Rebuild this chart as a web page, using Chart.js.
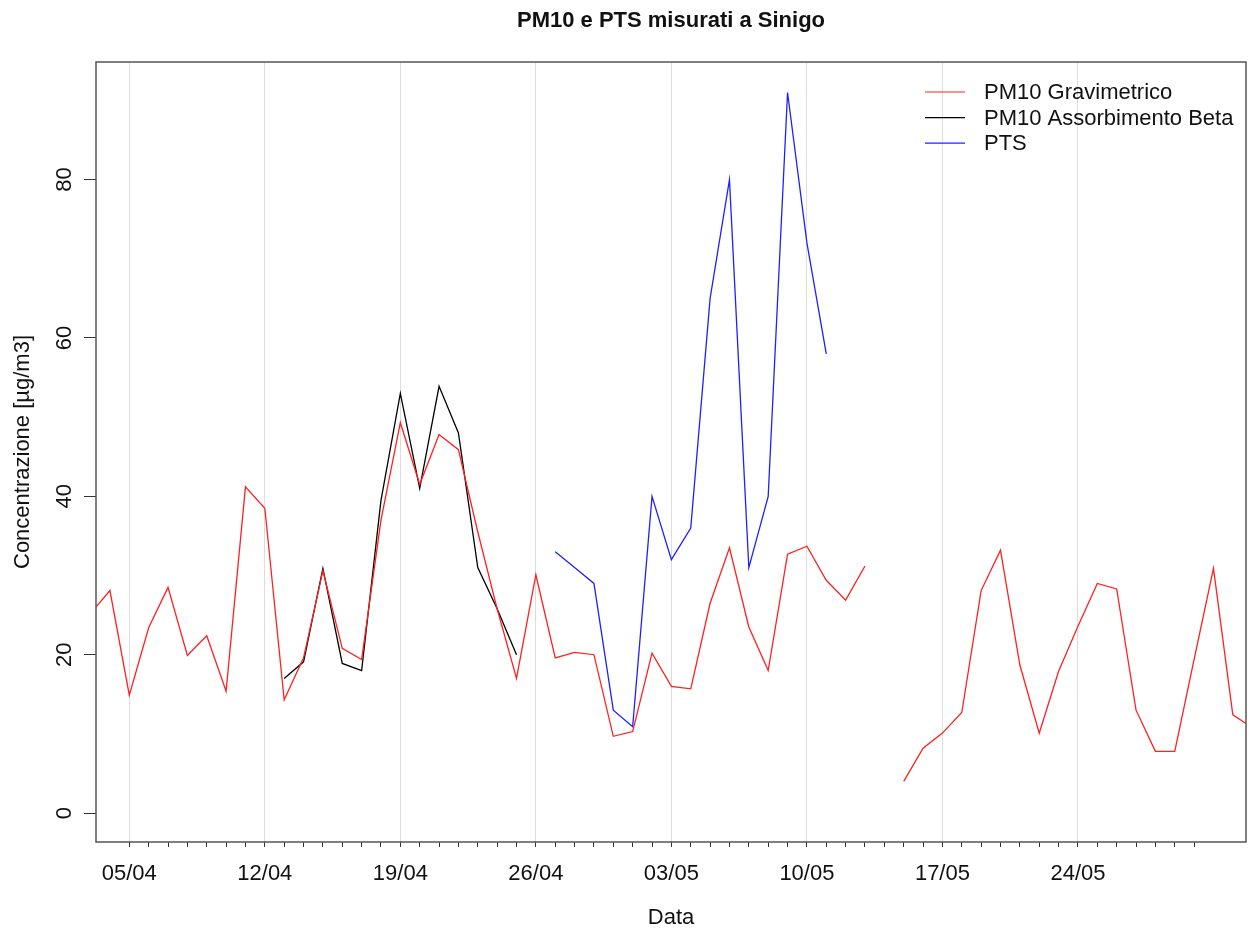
<!DOCTYPE html>
<html>
<head>
<meta charset="utf-8">
<title>PM10 e PTS misurati a Sinigo</title>
<script src="https://cdn.jsdelivr.net/npm/chart.js@4.4.1/dist/chart.umd.min.js"></script>
<style>
  html, body { margin: 0; padding: 0; background: #fff; }
</style>
</head>
<body>
<canvas id="sinigoChart" width="1249" height="931"></canvas>
<script>
// giorni di misura
const giorni = [
  '03/04','04/04','05/04','06/04','07/04','08/04','09/04','10/04','11/04','12/04',
  '13/04','14/04','15/04','16/04','17/04','18/04','19/04','20/04','21/04','22/04',
  '23/04','24/04','25/04','26/04','27/04','28/04','29/04','30/04',
  '01/05','02/05','03/05','04/05','05/05','06/05','07/05','08/05','09/05','10/05',
  '11/05','12/05','13/05','14/05','15/05','16/05','17/05','18/05','19/05','20/05',
  '21/05','22/05','23/05','24/05','25/05','26/05','27/05','28/05','29/05','30/05',
  '31/05','01/06','02/06'
];

// µg/m3
const pm10Gravimetrico = [
  25.2, 28.1, 14.9, 23.4, 28.5, 19.9, 22.4, 15.4, 41.2, 38.5,
  14.3, 19.6, 30.6, 20.8, 19.4, 37.0, 49.3, 41.5, 47.8, 45.9,
  35.5, 25.8, 17.0, 30.1, 19.6, 20.3, 20.0, 9.7,
  10.3, 20.2, 16.0, 15.7, 26.5, 33.5, 23.5, 18.0, 32.7, 33.7,
  29.4, 26.9, 31.2, null, 4.0, 8.2, 10.1, 12.7, 28.1, 33.2,
  18.7, 10.1, 17.9, 23.6, 29.0, 28.3, 13.0, 7.8, 7.8, 19.4,
  30.9, 12.4, 10.8
];
const pm10Beta = [
  null, null, null, null, null, null, null, null, null, null,
  17.0, 19.1, 30.9, 18.9, 18.0, 39.5, 53.0, 41.0, 53.9, 48.0,
  31.0, 25.8, 20.0, null, null, null, null, null,
  null, null, null, null, null, null, null, null, null, null,
  null, null, null, null, null, null, null, null, null, null,
  null, null, null, null, null, null, null, null, null, null,
  null, null, null
];
const pts = [
  null, null, null, null, null, null, null, null, null, null,
  null, null, null, null, null, null, null, null, null, null,
  null, null, null, null, 33.0, 31.0, 29.0, 13.0,
  10.9, 40.0, 32.0, 36.0, 65.0, 80.0, 31.0, 40.0, 91.0, 72.0,
  58.0, null, null, null, null, null, null, null, null, null,
  null, null, null, null, null, null, null, null, null, null,
  null, null, null
];

const etichetteSettimanali = ['05/04','12/04','19/04','26/04','03/05','10/05','17/05','24/05'];
const primoTick = '05/04';
const ultimoTick = '30/05';
const yTicks = [0, 20, 40, 60, 80];

// giorno -> numero di giorni dal 01/04
function giorno(s) {
  const [d, m] = s.split('/').map(Number);
  const inizioMese = { 4: 0, 5: 30, 6: 61 };
  return inizioMese[m] + d - 1;
}

function punti(valori) {
  return giorni.map((g, i) => ({ x: giorno(g), y: valori[i] }));
}

const font = '"Liberation Sans", Arial, Helvetica, sans-serif';
const settimane = etichetteSettimanali.map(giorno);

const decorazioni = {
  id: 'decorazioni',
  afterDraw(chart) {
    const { ctx, chartArea: a } = chart;
    ctx.save();
    // riquadro
    ctx.strokeStyle = '#555';
    ctx.lineWidth = 1.5;
    ctx.strokeRect(a.left, a.top, a.right - a.left, a.bottom - a.top);

    // titolo
    ctx.fillStyle = '#111';
    ctx.font = 'bold 22px ' + font;
    ctx.textAlign = 'center';
    ctx.textBaseline = 'middle';
    ctx.fillText('PM10 e PTS misurati a Sinigo', (a.left + a.right) / 2, 21);

    // legenda
    ctx.font = '22px ' + font;
    ctx.textAlign = 'left';
    chart.data.datasets.forEach((ds, i) => {
      const y = 92 + i * 25.6;
      ctx.strokeStyle = ds.borderColor;
      ctx.lineWidth = 1.2;
      ctx.beginPath();
      ctx.moveTo(925, y);
      ctx.lineTo(965, y);
      ctx.stroke();
      ctx.fillStyle = '#111';
      ctx.fillText(ds.label, 984, y + 1);
    });
    ctx.restore();
  }
};

new Chart(document.getElementById('sinigoChart'), {
  type: 'line',
  data: {
    datasets: [
      { label: 'PM10 Gravimetrico', data: punti(pm10Gravimetrico), borderColor: '#ff2020' },
      { label: 'PM10 Assorbimento Beta', data: punti(pm10Beta), borderColor: '#000000' },
      { label: 'PTS', data: punti(pts), borderColor: '#2020ff' }
    ]
  },
  options: {
    responsive: false,
    animation: false,
    devicePixelRatio: 1,
    layout: { padding: { top: 62, right: 3, left: 0, bottom: 0 } },
    elements: {
      line: { borderWidth: 1.3, tension: 0 },
      point: { radius: 0, hoverRadius: 0 }
    },
    spanGaps: false,
    plugins: {
      legend: { display: false },
      title: { display: false },
      tooltip: { enabled: false }
    },
    scales: {
      x: {
        type: 'linear',
        min: 2.28,
        max: 61.68,
        afterFit(scale) { scale.height = 89; },
        afterBuildTicks(scale) {
          const da = giorno(primoTick), a = giorno(ultimoTick);
          scale.ticks = giorni.map(giorno).filter(v => v >= da && v <= a).map(v => ({ value: v }));
        },
        border: { display: false },
        grid: {
          color: c => settimane.includes(c.tick && c.tick.value) ? '#dcdcdc' : 'rgba(0,0,0,0)',
          lineWidth: 1,
          tickColor: '#333',
          tickLength: 5,
          tickWidth: 1
        },
        ticks: {
          autoSkip: false,
          maxRotation: 0,
          padding: 14,
          color: '#111',
          font: { family: font, size: 22 },
          callback: v => {
            const i = settimane.indexOf(v);
            return i >= 0 ? etichetteSettimanali[i] : '';
          }
        },
        title: {
          display: true,
          text: 'Data',
          color: '#111',
          font: { family: font, size: 22 },
          padding: { top: 0, bottom: 0 }
        }
      },
      y: {
        min: -3.65,
        max: 94.85,
        afterFit(scale) { scale.width = 96; },
        afterBuildTicks(scale) { scale.ticks = yTicks.map(v => ({ value: v })); },
        border: { display: false },
        grid: {
          drawOnChartArea: false,
          tickColor: '#333',
          tickLength: 12,
          tickWidth: 1
        },
        ticks: {
          minRotation: 90,
          maxRotation: 90,
          crossAlign: 'center',
          padding: 7,
          color: '#111',
          font: { family: font, size: 22 }
        },
        title: {
          display: true,
          text: 'Concentrazione [µg/m3]',
          color: '#111',
          font: { family: font, size: 22 },
          padding: { top: 10, bottom: 0 }
        }
      }
    }
  },
  plugins: [decorazioni]
});
</script>
</body>
</html>
